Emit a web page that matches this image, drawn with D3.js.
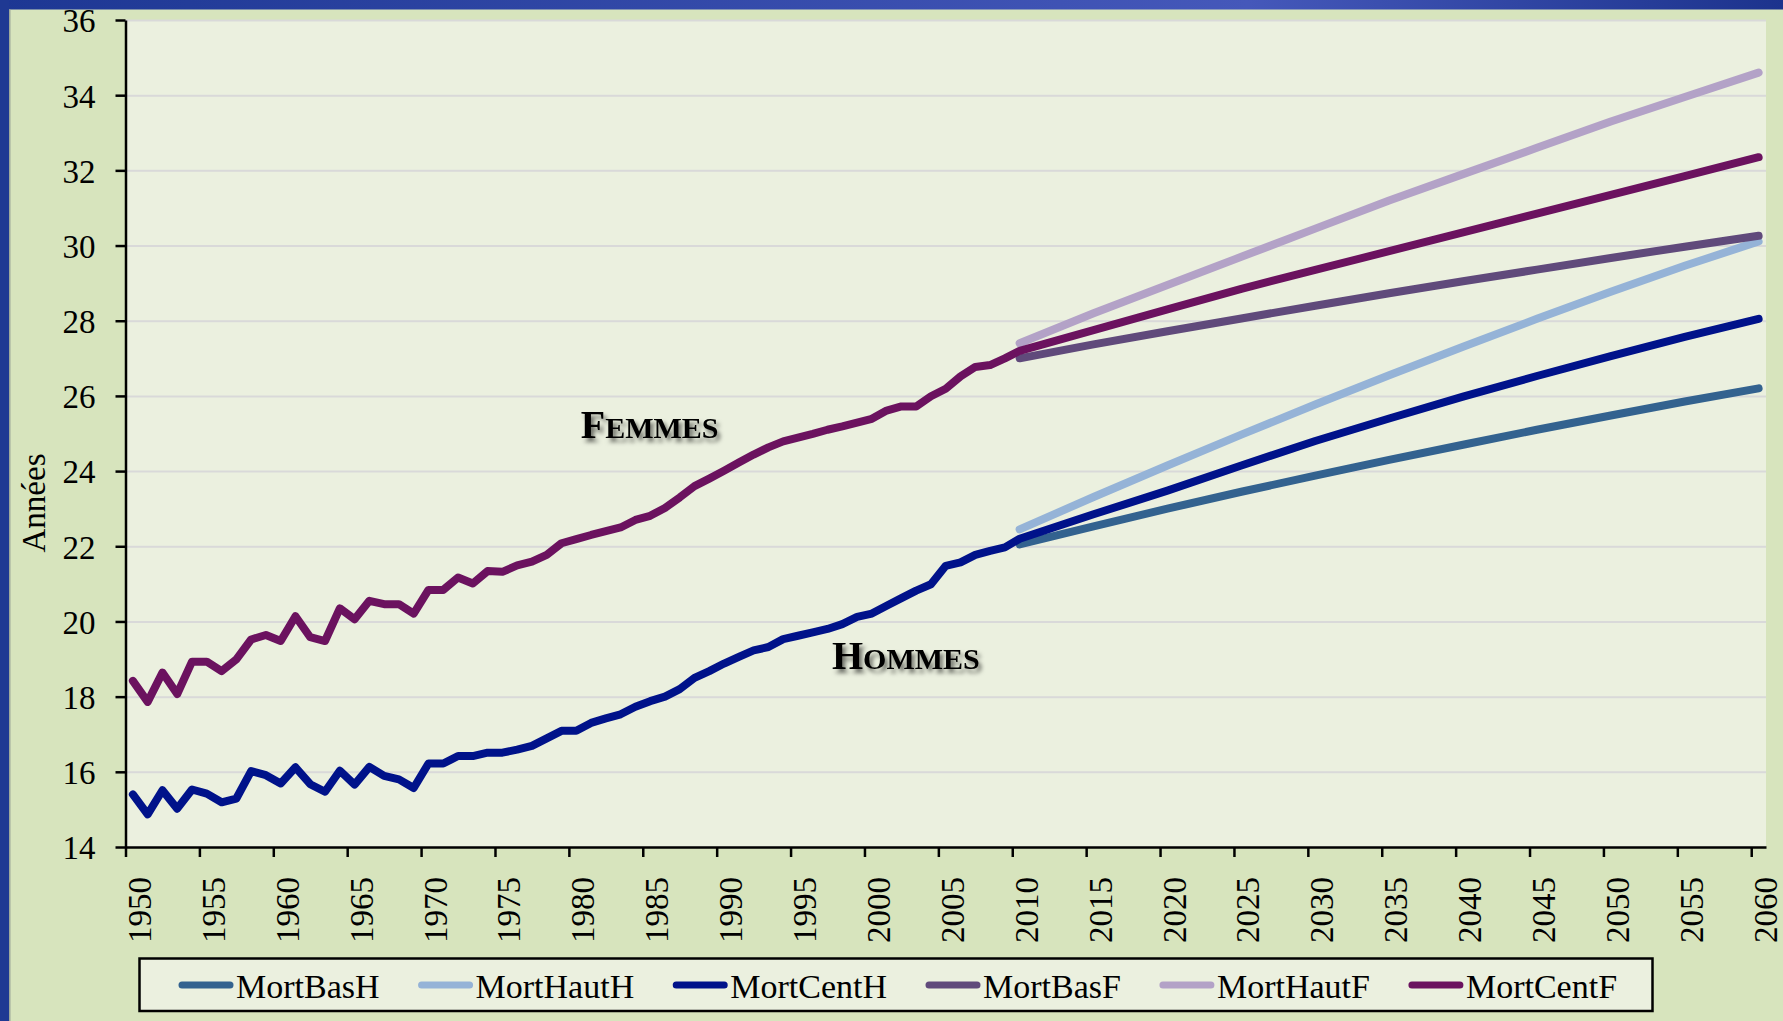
<!DOCTYPE html>
<html>
<head>
<meta charset="utf-8">
<script src="https://cdn.jsdelivr.net/npm/d3@7"></script>
<style>
  html, body { margin: 0; padding: 0; background: #d7e4bd; }
  svg { display: block; }
  text { font-family: "Liberation Serif", "Times New Roman", serif; }
</style>
</head>
<body>
<svg id="chart" width="1783" height="1021"></svg>
<script>
// ---------- data ----------
const histYears = d3.range(1950, 2010);
const histH = [15.40, 14.87, 15.51, 15.02, 15.53, 15.42, 15.19, 15.29, 16.02, 15.91,
               15.69, 16.12, 15.67, 15.47, 16.03, 15.66, 16.13, 15.89, 15.80, 15.57,
               16.22, 16.22, 16.42, 16.42, 16.51, 16.51, 16.59, 16.69, 16.89, 17.09,
               17.09, 17.30, 17.42, 17.53, 17.73, 17.88, 18.00, 18.20, 18.50, 18.68,
               18.88, 19.06, 19.23, 19.32, 19.53, 19.62, 19.71, 19.80, 19.93, 20.12,
               20.21, 20.42, 20.62, 20.82, 20.99, 21.48, 21.57, 21.77, 21.88, 21.97];
const histF = [18.42, 17.86, 18.64, 18.07, 18.93, 18.93, 18.68, 18.99, 19.52, 19.64,
               19.48, 20.14, 19.58, 19.48, 20.35, 20.06, 20.55, 20.46, 20.46, 20.21,
               20.84, 20.84, 21.17, 21.01, 21.34, 21.32, 21.49, 21.59, 21.77, 22.08,
               22.19, 22.30, 22.40, 22.50, 22.70, 22.81, 23.02, 23.30, 23.60, 23.80,
               24.01, 24.23, 24.44, 24.63, 24.79, 24.89, 24.99, 25.10, 25.19, 25.29,
               25.39, 25.61, 25.72, 25.72, 25.99, 26.19, 26.52, 26.77, 26.82, 27.00];

const projYears = [2010, 2015, 2020, 2025, 2030, 2035, 2040, 2045, 2050, 2055, 2060];
const projBasH  = [22.05, 22.53, 23.00, 23.45, 23.88, 24.30, 24.70, 25.10, 25.48, 25.85, 26.20];
const projHautH = [22.45, 23.31, 24.15, 24.97, 25.77, 26.55, 27.31, 28.05, 28.77, 29.46, 30.11];
const projCentH = [22.20, 22.85, 23.48, 24.15, 24.80, 25.40, 25.98, 26.53, 27.06, 27.57, 28.05];
const projBasF  = [27.00, 27.37, 27.72, 28.06, 28.40, 28.73, 29.05, 29.36, 29.67, 29.97, 30.26];
const projHautF = [27.40, 28.20, 28.95, 29.70, 30.45, 31.20, 31.90, 32.60, 33.30, 33.95, 34.60];
const projCentF = [27.20, 27.75, 28.30, 28.85, 29.35, 29.85, 30.35, 30.85, 31.35, 31.85, 32.35];

const seriesNames = ["MortBasH", "MortHautH", "MortCentH", "MortBasF", "MortHautF", "MortCentF"];
const seriesColors = ["#33628f", "#95b3d7", "#00128a", "#604a7b", "#b3a2c7", "#6b125f"];

const yTickValues = [14, 16, 18, 20, 22, 24, 26, 28, 30, 32, 34, 36];
const xLabelYears = d3.range(1950, 2061, 5);
const yAxisTitle = "Années";
const annotations = [
  {first: "F", rest: "EMMES", year: 1980.3, value: 24.89},
  {first: "H", rest: "OMMES", year: 1997.3, value: 18.73}
];

// ---------- build series ----------
const zipPts = (ys, vs) => ys.map((yr, i) => ({year: yr, value: vs[i]}));
const series = [
  zipPts(projYears, projBasH),
  zipPts(projYears, projHautH),
  zipPts(histYears, histH).concat(zipPts(projYears, projCentH)),
  zipPts(projYears, projBasF),
  zipPts(projYears, projHautF),
  zipPts(histYears, histF).concat(zipPts(projYears, projCentF))
];

// ---------- layout ----------
const W = 1783, H = 1021;
const plot = {left: 125.5, right: 1766, top: 20, bottom: 847};
const svg = d3.select("#chart");

const defs = svg.append("defs");
const grad = defs.append("linearGradient").attr("id", "topbar").attr("x1", "0%").attr("x2", "100%");
grad.append("stop").attr("offset", "0%").attr("stop-color", "#1d3793");
grad.append("stop").attr("offset", "70%").attr("stop-color", "#4558ba");
grad.append("stop").attr("offset", "100%").attr("stop-color", "#1c338d");
const shadow = defs.append("filter").attr("id", "shadow").attr("x", "-10%").attr("y", "-30%").attr("width", "130%").attr("height", "180%");
shadow.append("feDropShadow").attr("dx", 3).attr("dy", 4).attr("stdDeviation", 2.2)
  .attr("flood-color", "#000").attr("flood-opacity", 0.55);

// frame
svg.append("rect").attr("width", W).attr("height", H).attr("fill", "#d7e4bd");
svg.append("rect").attr("x", 0).attr("y", 0).attr("width", W).attr("height", 9.5).attr("fill", "url(#topbar)");
svg.append("rect").attr("x", 0).attr("y", 0).attr("width", 9).attr("height", H).attr("fill", "#1f3993");
svg.append("rect").attr("x", 9).attr("y", 9.5).attr("width", 1.5).attr("height", H - 9.5).attr("fill", "#9ea89a");

// plot background
svg.append("rect").attr("x", plot.left).attr("y", plot.top)
  .attr("width", plot.right - plot.left).attr("height", plot.bottom - plot.top)
  .attr("fill", "#ebf0df");

const x = d3.scaleLinear().domain([1949.5, 2060.5]).range([plot.left, plot.right]);
const y = d3.scaleLinear().domain([14, 36]).range([plot.bottom, plot.top]);

// gridlines
const grid = svg.append("g").attr("transform", `translate(${plot.left},0)`)
  .call(d3.axisLeft(y).tickValues(yTickValues.filter(v => v > 14)).tickSize(-(plot.right - plot.left)).tickFormat(""));
grid.select(".domain").remove();
grid.selectAll("line").attr("stroke", "#d9d9d9").attr("stroke-width", 2);

// lines
const line = d3.line().x(d => x(d.year)).y(d => y(d.value));
svg.append("g").selectAll("path").data(series).join("path")
  .attr("d", line)
  .attr("fill", "none")
  .attr("stroke", (d, i) => seriesColors[i])
  .attr("stroke-width", 8)
  .attr("stroke-linejoin", "round")
  .attr("stroke-linecap", "round");

// y axis
const yAxis = svg.append("g").attr("transform", `translate(${plot.left},0)`)
  .call(d3.axisLeft(y).tickValues(yTickValues).tickSize(10).tickSizeOuter(0).tickPadding(20));
yAxis.select(".domain").attr("stroke", "#000").attr("stroke-width", 2.5);
yAxis.selectAll(".tick line").attr("stroke", "#000").attr("stroke-width", 2.5);
yAxis.selectAll(".tick text").attr("fill", "#000").style("font-size", "33px")
  .attr("font-family", "Liberation Serif, Times New Roman, serif").attr("dy", "0.36em");

// x axis: tick marks at category boundaries
const xTicks = svg.append("g").attr("transform", `translate(0,${plot.bottom})`)
  .call(d3.axisBottom(x).tickValues(xLabelYears.map(v => v - 0.5)).tickSize(10).tickSizeOuter(0).tickFormat(""));
xTicks.select(".domain").attr("stroke", "#000").attr("stroke-width", 2.5);
xTicks.selectAll(".tick line").attr("stroke", "#000").attr("stroke-width", 2.5);

// x axis labels centred on categories
const xLabels = svg.append("g").attr("transform", `translate(0,${plot.bottom})`)
  .call(d3.axisBottom(x).tickValues(xLabelYears).tickSize(0).tickFormat(d3.format("d")));
xLabels.select(".domain").remove();
xLabels.selectAll(".tick text")
  .attr("fill", "#000").style("font-size", "33px")
  .attr("font-family", "Liberation Serif, Times New Roman, serif")
  .attr("text-anchor", "end")
  .attr("transform", "rotate(-90)")
  .attr("x", -30).attr("y", 6).attr("dy", "0.35em");

// y axis title
svg.append("text").attr("transform", `translate(45,503) rotate(-90)`)
  .attr("text-anchor", "middle").style("font-size", "33px").attr("fill", "#000")
  .text(yAxisTitle);

// annotations
const ann = svg.append("g").attr("filter", "url(#shadow)");
annotations.forEach(a => {
  const t = ann.append("text").attr("x", x(a.year)).attr("y", y(a.value))
    .attr("font-weight", "bold").attr("fill", "#000");
  t.append("tspan").style("font-size", "40px").text(a.first);
  t.append("tspan").style("font-size", "30px").text(a.rest);
});

// legend
const legend = svg.append("g");
legend.append("rect").attr("x", 139.5).attr("y", 958.5).attr("width", 1513).attr("height", 52.5)
  .attr("fill", "#ebf0df").attr("stroke", "#000").attr("stroke-width", 2.5);
let lx = 182;
const ly = 985;
seriesNames.forEach((name, i) => {
  legend.append("line").attr("x1", lx).attr("x2", lx + 48).attr("y1", ly).attr("y2", ly)
    .attr("stroke", seriesColors[i]).attr("stroke-width", 7).attr("stroke-linecap", "round");
  const t = legend.append("text").attr("x", lx + 54).attr("y", ly + 1).attr("dy", "0.34em")
    .style("font-size", "34px").attr("fill", "#000").text(name);
  lx += 54 + t.node().getComputedTextLength() + 42;
});
</script>
</body>
</html>
